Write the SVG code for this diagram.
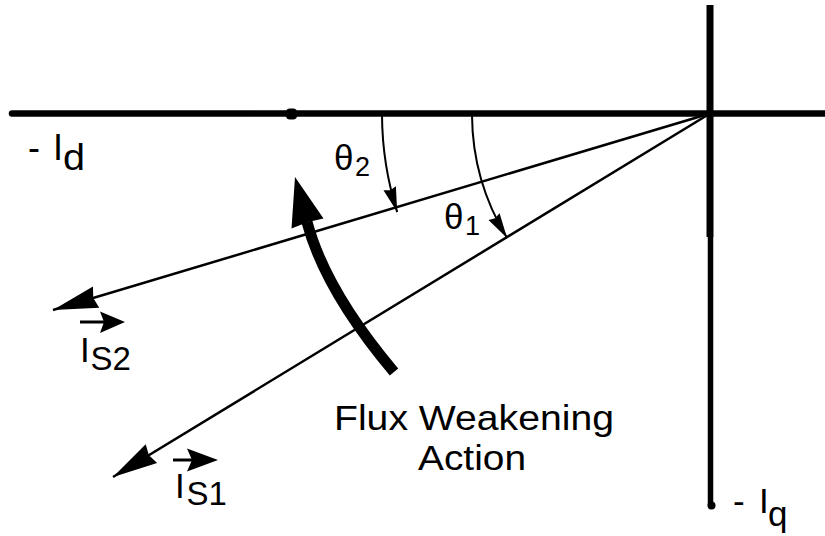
<svg xmlns="http://www.w3.org/2000/svg" width="825" height="536" viewBox="0 0 825 536">
  <style>
    .t { font-family: "Liberation Sans", Arial, sans-serif; fill: #000; }
    .vec { stroke: #000; stroke-width: 2.5; fill: none; }
    .arc { stroke: #000; stroke-width: 2; fill: none; }
    .blk { fill: #000; stroke: none; }
  </style>
  <defs>
    <marker id="bigHead" markerUnits="userSpaceOnUse" markerWidth="46" markerHeight="24" refX="45" refY="11" orient="auto" overflow="visible">
      <path d="M45,11 L0,0 L3,11 L0,22 Z" fill="#000"/>
    </marker>
    <marker id="smallHead" markerUnits="userSpaceOnUse" markerWidth="26" markerHeight="14" refX="25" refY="6.5" orient="auto" overflow="visible">
      <path d="M25,6.5 L0,0 L2,6.5 L0,13 Z" fill="#000"/>
    </marker>
  </defs>
  <rect width="825" height="536" fill="#fff"/>

  <g id="axes">
    <line x1="12" y1="113.5" x2="825" y2="113.5" stroke="#000" stroke-width="6.5" stroke-linecap="round"/>
    <rect x="286" y="108.5" width="11" height="11" rx="4" class="blk"/>
    <line x1="710" y1="5" x2="710" y2="237" stroke="#000" stroke-width="7"/>
    <line x1="710.5" y1="237" x2="710.5" y2="505" stroke="#000" stroke-width="5.5"/>
    <circle cx="711.5" cy="505.5" r="4" class="blk"/>
  </g>

  <g id="connectors">
    <path id="is2-vector" class="vec" d="M710,113.5 L53,310" marker-end="url(#bigHead)"/>
    <path id="is1-vector" class="vec" d="M710,113.5 L113,477" marker-end="url(#bigHead)"/>
    <path id="theta2-arc" class="arc" d="M382,115 A328,328 0 0 0 397.2,212.1" marker-end="url(#smallHead)"/>
    <path id="theta1-arc" class="arc" d="M472,115 A238,238 0 0 0 507.1,237.9" marker-end="url(#smallHead)"/>
  </g>

  <g id="flux-arrow">
    <path d="M394,372 Q325,290 307,222" stroke="#000" stroke-width="11" fill="none"/>
    <polygon points="295,177 323.5,218.5 308,222 291.5,228.5" class="blk"/>
  </g>

  <g id="label-id">
    <text class="t" font-size="36"><tspan x="28" y="160">-</tspan><tspan x="53" y="160">I</tspan><tspan x="63" y="170" textLength="22" lengthAdjust="spacingAndGlyphs">d</tspan></text>
  </g>

  <g id="label-iq">
    <text class="t" font-size="35"><tspan x="733" y="513">-</tspan><tspan x="759" y="513">I</tspan><tspan x="768" y="526">q</tspan></text>
  </g>

  <g id="label-theta2">
    <text class="t" font-size="35"><tspan x="334" y="170">θ</tspan><tspan x="355" y="176" font-size="27">2</tspan></text>
  </g>

  <g id="label-theta1">
    <text class="t" font-size="35"><tspan x="444" y="229">θ</tspan><tspan x="465" y="235" font-size="27">1</tspan></text>
  </g>

  <g id="label-is2">
    <line x1="80" y1="322" x2="104" y2="322" stroke="#000" stroke-width="3"/>
    <polygon points="125,322 100,311.5 104,322 100,333" class="blk"/>
    <text class="t" font-size="35"><tspan x="80" y="362">I</tspan><tspan x="90.5" y="370" font-size="33">S2</tspan></text>
  </g>

  <g id="label-is1">
    <line x1="173" y1="460" x2="192" y2="460" stroke="#000" stroke-width="3"/>
    <polygon points="218,460 187,448.5 192,460 187,471.5" class="blk"/>
    <text class="t" font-size="35"><tspan x="175" y="498">I</tspan><tspan x="186.5" y="505" font-size="33">S1</tspan></text>
  </g>

  <g id="label-flux">
    <text class="t" font-size="35" text-anchor="middle" x="474" y="430" textLength="280" lengthAdjust="spacingAndGlyphs">Flux Weakening</text>
    <text class="t" font-size="35" text-anchor="middle" x="472" y="470" textLength="108" lengthAdjust="spacingAndGlyphs">Action</text>
  </g>
</svg>
